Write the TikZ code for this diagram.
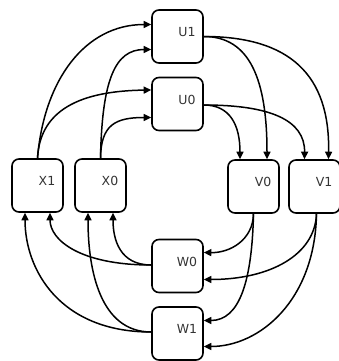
\documentclass[tikz,border=0pt]{standalone}
\usepackage{fontspec}
\setmainfont{DejaVu Sans}
\usetikzlibrary{arrows.meta,calc}
\tikzset{
  box/.style={draw, line width=1.6pt, rounded corners=7pt, minimum width=51pt, minimum height=53pt, inner sep=0pt},
  lbl/.style={font=\fontsize{12.5}{14}\selectfont, text=black!80},
  edge/.style={line width=1.5pt, -{Triangle[length=7.5pt,width=7pt]}},
}
\newcommand{\boxnode}[3]{\node[box, label={[lbl,xshift=9.5pt,yshift=4.5pt]center:#3}] (#1) at #2 {};}
\begin{document}
\begin{tikzpicture}[x=1pt,y=-1pt]
\useasboundingbox (0,0) rectangle (339,361);
\boxnode{U1}{(177.5,36.5)}{U1}
\boxnode{U0}{(177.5,104)}{U0}
\boxnode{X1}{(37.5,185.5)}{X1}
\boxnode{X0}{(100.5,185.5)}{X0}
\boxnode{V0}{(253.5,186.5)}{V0}
\boxnode{V1}{(314.5,186.5)}{V1}
\boxnode{W0}{(177.5,266)}{W0}
\boxnode{W1}{(177.5,333.5)}{W1}
% X -> U
\draw[edge] (X1.north) .. controls (44,80) and (85,24.5) .. ($(U1.west)+(0,-12)$);
\draw[edge] (X1.north) .. controls (40,110) and (80,91) .. ($(U0.west)+(0,-14)$);
\draw[edge] (X0.north) .. controls (102,80) and (115,49.5) .. ($(U1.west)+(0,13)$);
\draw[edge] (X0.north) .. controls (101,125) and (115,117.5) .. ($(U0.west)+(0,13.5)$);
% U -> V
\draw[edge] (U1.east) .. controls (250,36.5) and (267,80) .. ($(V0.north)+(13.5,0)$);
\draw[edge] (U1.east) .. controls (290,36.5) and (330,75) .. ($(V1.north)+(14,0)$);
\draw[edge] ($(U0.east)+(0,1)$) .. controls (230,105) and (240,125) .. ($(V0.north)+(-13.5,0)$);
\draw[edge] ($(U0.east)+(0,1)$) .. controls (270,105) and (305,120) .. ($(V1.north)+(-10,0)$);
% V -> W
\draw[edge] (V0.south) .. controls (253,240) and (230,253) .. ($(W0.east)+(0,-13.5)$);
\draw[edge] (V0.south) .. controls (252,280) and (240,320.5) .. ($(W1.east)+(0,-13)$);
\draw[edge] ($(V1.south)+(2,0)$) .. controls (315,255) and (270,279.5) .. ($(W0.east)+(0,13.5)$);
\draw[edge] ($(V1.south)+(2,0)$) .. controls (315,300) and (260,346.5) .. ($(W1.east)+(0,13)$);
% W -> X
\draw[edge] ($(W0.west)+(0,-1)$) .. controls (80,265) and (50,240) .. ($(X1.south)+(12.5,0)$);
\draw[edge] ($(W0.west)+(0,-1)$) .. controls (120,265) and (113,240) .. ($(X0.south)+(12.5,0)$);
\draw[edge] ($(W1.west)+(0,-1.5)$) .. controls (60,332) and (25,270) .. ($(X1.south)+(-12.5,0)$);
\draw[edge] ($(W1.west)+(0,-1.5)$) .. controls (100,332) and (88,270) .. ($(X0.south)+(-12.5,0)$);
\end{tikzpicture}
\end{document}
